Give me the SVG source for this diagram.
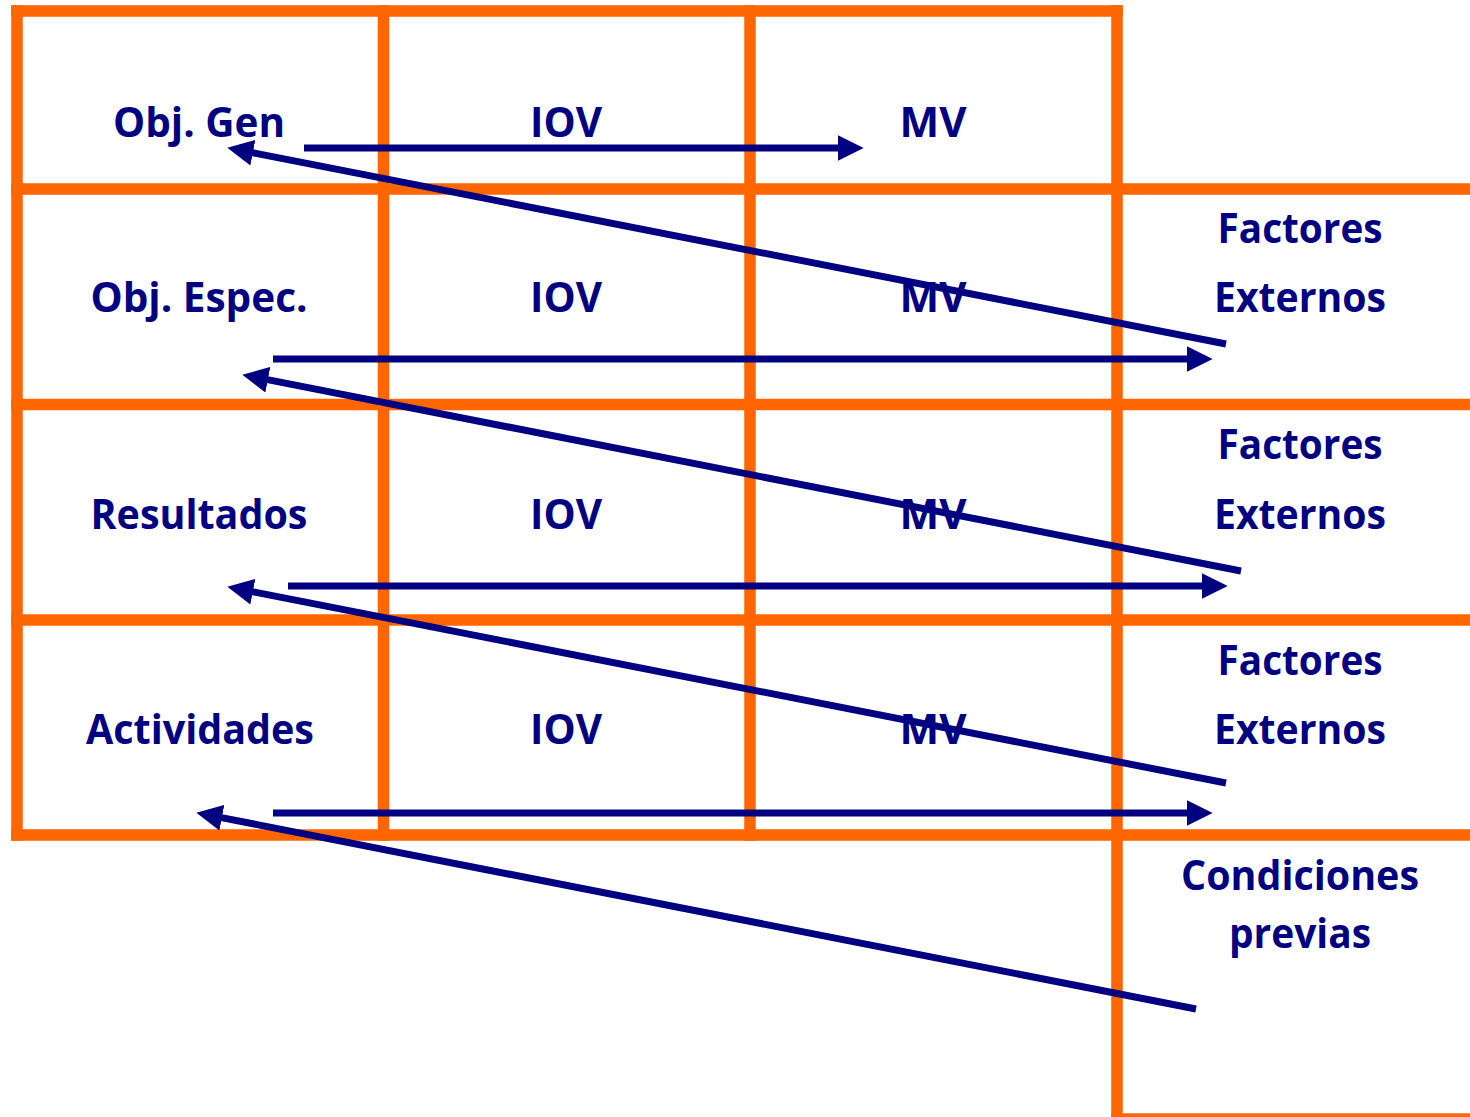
<svg xmlns="http://www.w3.org/2000/svg" width="1470" height="1117" viewBox="0 0 1470 1117">
  <style>
    .grid { stroke: #FF6600; stroke-width: 11.5; fill: none; stroke-linecap: square; }
    .lbl { font-family: "Open Sans", "Noto Sans", "Liberation Sans", sans-serif; font-weight: bold; font-size: 42px; fill: #000080; text-anchor: middle; }
    .arrow { stroke: #000080; stroke-width: 7; fill: none; }
  </style>
  <defs>
    <marker id="head" markerUnits="userSpaceOnUse" markerWidth="26" markerHeight="26" viewBox="0 0 24 24" refX="4" refY="12" orient="auto">
      <path d="M0,0 L24,12 L0,24 z" fill="#000080"/>
    </marker>
  </defs>

  <rect width="1470" height="1117" fill="#ffffff"/>

  <!-- logical framework grid -->
  <g id="grid" class="grid">
    <line x1="17" y1="11" x2="1117" y2="11"/>
    <line x1="17" y1="189" x2="1470" y2="189"/>
    <line x1="17" y1="404.5" x2="1470" y2="404.5"/>
    <line x1="17" y1="620" x2="1470" y2="620"/>
    <line x1="17" y1="835" x2="1470" y2="835"/>
    <line x1="1117" y1="1119" x2="1470" y2="1119"/>
    <line x1="17" y1="11" x2="17" y2="835"/>
    <line x1="383.5" y1="11" x2="383.5" y2="835"/>
    <line x1="750" y1="11" x2="750" y2="835"/>
    <line x1="1117" y1="11" x2="1117" y2="1119"/>
  </g>

  <!-- row 1 -->
  <g id="obj-gen"><text class="lbl" x="199" y="137" textLength="172" lengthAdjust="spacingAndGlyphs">Obj. Gen</text></g>
  <g id="iov-1"><text class="lbl" x="566" y="137" textLength="72" lengthAdjust="spacingAndGlyphs">IOV</text></g>
  <g id="mv-1"><text class="lbl" x="933" y="137" textLength="67" lengthAdjust="spacingAndGlyphs">MV</text></g>

  <!-- row 2 -->
  <g id="obj-espec"><text class="lbl" x="199" y="312" textLength="217" lengthAdjust="spacingAndGlyphs">Obj. Espec.</text></g>
  <g id="iov-2"><text class="lbl" x="566" y="312" textLength="72" lengthAdjust="spacingAndGlyphs">IOV</text></g>
  <g id="mv-2"><text class="lbl" x="933" y="312" textLength="67" lengthAdjust="spacingAndGlyphs">MV</text></g>
  <g id="fe-1">
    <text class="lbl" x="1300" y="243" textLength="165" lengthAdjust="spacingAndGlyphs">Factores</text>
    <text class="lbl" x="1300" y="312" textLength="172" lengthAdjust="spacingAndGlyphs">Externos</text>
  </g>

  <!-- row 3 -->
  <g id="resultados"><text class="lbl" x="199" y="529" textLength="217" lengthAdjust="spacingAndGlyphs">Resultados</text></g>
  <g id="iov-3"><text class="lbl" x="566" y="529" textLength="72" lengthAdjust="spacingAndGlyphs">IOV</text></g>
  <g id="mv-3"><text class="lbl" x="933" y="529" textLength="67" lengthAdjust="spacingAndGlyphs">MV</text></g>
  <g id="fe-2">
    <text class="lbl" x="1300" y="459" textLength="165" lengthAdjust="spacingAndGlyphs">Factores</text>
    <text class="lbl" x="1300" y="529" textLength="172" lengthAdjust="spacingAndGlyphs">Externos</text>
  </g>

  <!-- row 4 -->
  <g id="actividades"><text class="lbl" x="200" y="744" textLength="228" lengthAdjust="spacingAndGlyphs">Actividades</text></g>
  <g id="iov-4"><text class="lbl" x="566" y="744" textLength="72" lengthAdjust="spacingAndGlyphs">IOV</text></g>
  <g id="mv-4"><text class="lbl" x="933" y="744" textLength="67" lengthAdjust="spacingAndGlyphs">MV</text></g>
  <g id="fe-3">
    <text class="lbl" x="1300" y="675" textLength="165" lengthAdjust="spacingAndGlyphs">Factores</text>
    <text class="lbl" x="1300" y="744" textLength="172" lengthAdjust="spacingAndGlyphs">Externos</text>
  </g>

  <!-- preconditions -->
  <g id="condiciones">
    <text class="lbl" x="1300" y="890" textLength="238" lengthAdjust="spacingAndGlyphs">Condiciones</text>
    <text class="lbl" x="1300" y="948" textLength="142" lengthAdjust="spacingAndGlyphs">previas</text>
  </g>

  <!-- vertical logic connectors -->
  <g id="connectors" class="arrow" marker-end="url(#head)">
    <line x1="304" y1="148" x2="842" y2="148"/>
    <line x1="1226" y1="344" x2="248.6" y2="151.9"/>
    <line x1="273" y1="359" x2="1191" y2="359"/>
    <line x1="1241" y1="571" x2="263.6" y2="378.9"/>
    <line x1="288" y1="586" x2="1206" y2="586"/>
    <line x1="1226" y1="783" x2="248.6" y2="590.9"/>
    <line x1="273" y1="813" x2="1191" y2="813"/>
    <line x1="1196" y1="1009" x2="217.6" y2="816.9"/>
  </g>
</svg>
